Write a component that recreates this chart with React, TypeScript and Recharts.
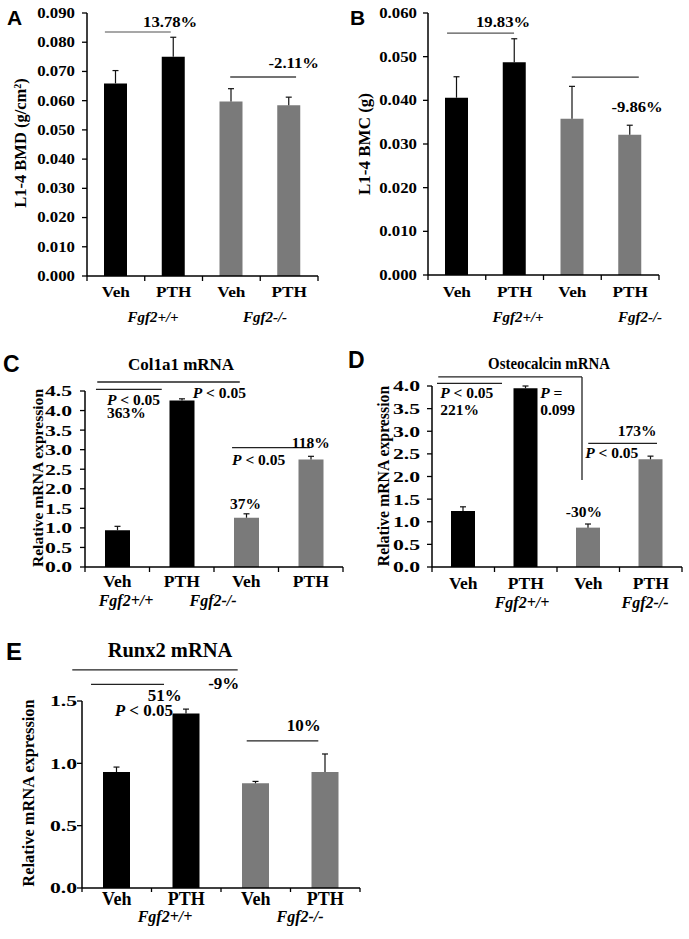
import React from 'react';
import { BarChart, Bar, XAxis, YAxis, Cell, ReferenceLine, ReferenceDot } from 'recharts';

const SERIF = "'Liberation Serif', 'Times New Roman', Times, serif";
const SANS = "'Liberation Sans', Arial, Helvetica, sans-serif";

// shared categories
const groups = ['Veh', 'PTH', 'Veh', 'PTH'];
const barColors = ['#000000', '#000000', '#7a7a7a', '#7a7a7a'];

// A - L1-4 BMD
const bmdValues = [0.0659, 0.075, 0.0597, 0.0584];
const bmdErrors = [0.0044, 0.0067, 0.0044, 0.0028];
const bmdTicks = [0, 0.01, 0.02, 0.03, 0.04, 0.05, 0.06, 0.07, 0.08, 0.09];
const bmdLines = [
  { x1: 0.31, x2: 1.45, y1: 0.0835, y2: 0.0835, color: '#8a8a8a' },
  { x1: 2.48, x2: 3.62, y1: 0.0681, y2: 0.0681, color: '#444' },
];
const bmdNotes = [
  { x: 1.44, y: 0.0869, text: '13.78%', anchor: 'middle' },
  { x: 3.58, y: 0.0729, text: '-2.11%', anchor: 'middle' },
];

// B - L1-4 BMC
const bmcValues = [0.0406, 0.0487, 0.0358, 0.0321];
const bmcErrors = [0.0048, 0.0054, 0.0074, 0.0022];
const bmcTicks = [0, 0.01, 0.02, 0.03, 0.04, 0.05, 0.06];
const bmcLines = [
  { x1: 0.33, x2: 1.49, y1: 0.0554, y2: 0.0554, color: '#555' },
  { x1: 2.49, x2: 3.65, y1: 0.0453, y2: 0.0453, color: '#333' },
];
const bmcNotes = [
  { x: 1.3, y: 0.0579, text: '19.83%', anchor: 'middle' },
  { x: 3.62, y: 0.0385, text: '-9.86%', anchor: 'middle' },
];

// C - Col1a1
const colValues = [0.94, 4.26, 1.26, 2.75];
const colErrors = [0.1, 0.04, 0.1, 0.08];
const colTicks = [0, 0.5, 1, 1.5, 2, 2.5, 3, 3.5, 4, 4.5];
const colLines = [
  { x1: 0.19, x2: 2.4, y1: 4.73, y2: 4.73, color: '#222' },
  { x1: 0.17, x2: 1.19, y1: 4.54, y2: 4.54, color: '#222' },
  { x1: 2.28, x2: 3.49, y1: 3.05, y2: 3.05, color: '#222' },
];
const colNotes = [
  { x: 0.34, y: 4.29, text: 'P < 0.05', anchor: 'start' },
  { x: 0.34, y: 3.96, text: '363%', anchor: 'start' },
  { x: 1.67, y: 4.45, text: 'P < 0.05', anchor: 'start' },
  { x: 3.5, y: 3.19, text: '118%', anchor: 'middle' },
  { x: 2.28, y: 2.75, text: 'P < 0.05', anchor: 'start' },
  { x: 2.49, y: 1.62, text: '37%', anchor: 'middle' },
];

// D - Osteocalcin
const ocnValues = [1.24, 3.95, 0.87, 2.38];
const ocnErrors = [0.09, 0.05, 0.08, 0.07];
const ocnTicks = [0, 0.5, 1, 1.5, 2, 2.5, 3, 3.5, 4];
const ocnLines = [
  { x1: 0.1, x2: 2.4, y1: 4.2, y2: 4.2, color: '#222' },
  { x1: 2.4, x2: 2.4, y1: 4.2, y2: 1.92, color: '#222' },
  { x1: 0.08, x2: 1.12, y1: 4.06, y2: 4.06, color: '#222' },
  { x1: 2.5, x2: 3.6, y1: 2.73, y2: 2.73, color: '#222' },
];
const ocnNotes = [
  { x: 0.13, y: 3.85, text: 'P < 0.05', anchor: 'start' },
  { x: 0.13, y: 3.49, text: '221%', anchor: 'start' },
  { x: 1.73, y: 3.85, text: 'P =', anchor: 'start' },
  { x: 1.73, y: 3.49, text: '0.099', anchor: 'start' },
  { x: 3.28, y: 3.01, text: '173%', anchor: 'middle' },
  { x: 2.45, y: 2.52, text: 'P < 0.05', anchor: 'start' },
  { x: 2.43, y: 1.22, text: '-30%', anchor: 'middle' },
];

// E - Runx2
const runxValues = [0.93, 1.4, 0.84, 0.93];
const runxErrors = [0.04, 0.035, 0.015, 0.145];
const runxTicks = [0, 0.5, 1, 1.5];
const runxLines = [
  { x1: -0.14, x2: 2.24, y1: 1.75, y2: 1.75, color: '#222' },
  { x1: 0.13, x2: 1.18, y1: 1.634, y2: 1.634, color: '#222' },
  { x1: 2.37, x2: 3.4, y1: 1.18, y2: 1.18, color: '#222' },
];
const runxNotes = [
  { x: 2.04, y: 1.646, text: '-9%', anchor: 'middle' },
  { x: 1.19, y: 1.55, text: '51%', anchor: 'middle' },
  { x: 0.47, y: 1.425, text: 'P < 0.05', anchor: 'start' },
  { x: 3.19, y: 1.305, text: '10%', anchor: 'middle' },
];

const WText = ({ x, y, size, sx = 1, anchor = 'middle', dy = '0.35em', rotate = 0, italic = false, family = SERIF, children }: any) => (
  <text
    transform={`translate(${x},${y}) rotate(${rotate}) scale(${sx},1)`}
    textAnchor={anchor}
    dy={dy}
    fontSize={size}
    fontFamily={family}
    fontWeight="bold"
    fontStyle={italic ? 'italic' : 'normal'}
    fill="#000"
  >
    {children}
  </text>
);

const rich = (t: string) =>
  t.startsWith('P ') ? (
    <>
      <tspan fontStyle="italic">P</tspan>
      {t.slice(1)}
    </>
  ) : (
    t
  );

const ErrShape = (p: any) => {
  const { x, y, width, height } = p;
  if (!height) return <g />;
  const cx = x + width / 2;
  return (
    <g>
      <line x1={cx} x2={cx} y1={y} y2={y + height} stroke="#111" strokeWidth={1.2} />
      <line x1={cx - 3} x2={cx + 3} y1={y} y2={y} stroke="#111" strokeWidth={1.2} />
    </g>
  );
};

const Panel = ({ box, margin, yWidth, values, errors, ticks, digits, lines, notes, st }: any) => {
  const data = groups.map((g, i) => ({ x: i + 0.5, name: g, value: values[i], err: errors[i] }));
  const top = ticks[ticks.length - 1];
  return (
    <div style={{ position: 'absolute', left: box.left, top: box.top }}>
      <BarChart width={box.width} height={box.height} data={data} margin={margin} style={{ overflow: 'visible' }}>
        <XAxis
          type="number"
          dataKey="x"
          domain={[0, 4]}
          allowDataOverflow
          ticks={[0, 1, 2, 3, 4]}
          interval={0}
          height={st.tickLen}
          tickSize={st.tickLen}
          tick={() => <g />}
          axisLine={{ stroke: '#000', strokeWidth: 1.5 }}
          tickLine={{ stroke: '#000', strokeWidth: 1.3 }}
        />
        <XAxis
          xAxisId="lab"
          type="number"
          dataKey="x"
          domain={[0, 4]}
          allowDataOverflow
          ticks={[0.5, 1.5, 2.5, 3.5]}
          interval={0}
          height={st.labH}
          axisLine={false}
          tickLine={false}
          tickSize={0}
          tickMargin={st.labMargin}
          tick={(p: any) => (
            <WText x={p.x} y={p.y} dy="0.71em" size={st.lab} sx={st.labSx}>
              {groups[Math.floor(p.payload.value)]}
            </WText>
          )}
        />
        <YAxis
          type="number"
          domain={[0, top]}
          ticks={ticks}
          interval={0}
          width={yWidth}
          tickSize={5}
          tickMargin={st.yMargin}
          axisLine={{ stroke: '#000', strokeWidth: 1.5 }}
          tickLine={{ stroke: '#000', strokeWidth: 1.3 }}
          tick={(p: any) => (
            <WText x={p.x} y={p.y} anchor="end" size={st.tick} sx={st.tickSx}>
              {Number(p.payload.value).toFixed(digits)}
            </WText>
          )}
        />
        <Bar dataKey="value" stackId="s" barSize={st.barW} isAnimationActive={false}>
          {data.map((d, i) => (
            <Cell key={i} fill={barColors[i]} />
          ))}
        </Bar>
        <Bar dataKey="err" stackId="s" barSize={st.barW} shape={ErrShape} isAnimationActive={false} />
        {lines.map((l: any, i: number) => (
          <ReferenceLine
            key={'l' + i}
            segment={[{ x: l.x1, y: l.y1 }, { x: l.x2, y: l.y2 }]}
            stroke={l.color}
            strokeWidth={1.3}
            ifOverflow="visible"
          />
        ))}
        {notes.map((n: any, i: number) => (
          <ReferenceDot
            key={'n' + i}
            x={n.x}
            y={n.y}
            r={0}
            ifOverflow="visible"
            shape={(p: any) => (
              <WText x={p.cx} y={p.cy} anchor={n.anchor} size={st.ann} sx={st.annSx}>
                {rich(n.text)}
              </WText>
            )}
          />
        ))}
      </BarChart>
    </div>
  );
};

const stAB = { tick: 14, tickSx: 1.2, lab: 15, labSx: 1.15, ann: 14.5, annSx: 1.15, tickLen: 5, labH: 19, yMargin: 7 };

export default function App() {
  return (
    <div style={{ position: 'absolute', left: 0, top: 0, width: 689, height: 939, background: '#fff', overflow: 'hidden' }}>
      <Panel
        box={{ left: 0, top: 0, width: 345, height: 300 }}
        margin={{ top: 13, right: 27, bottom: 0, left: 2 }}
        yWidth={85}
        values={bmdValues}
        errors={bmdErrors}
        ticks={bmdTicks}
        digits={3}
        lines={bmdLines}
        notes={bmdNotes}
        st={{ ...stAB, barW: 23, labMargin: 5 }}
      />
      <Panel
        box={{ left: 345, top: 0, width: 344, height: 300 }}
        margin={{ top: 13, right: 30, bottom: 1, left: 2 }}
        yWidth={81}
        values={bmcValues}
        errors={bmcErrors}
        ticks={bmcTicks}
        digits={3}
        lines={bmcLines}
        notes={bmcNotes}
        st={{ ...stAB, barW: 23, labMargin: 6, yMargin: 6 }}
      />
      <Panel
        box={{ left: 0, top: 330, width: 345, height: 270 }}
        margin={{ top: 61, right: 2, bottom: 7, left: 2 }}
        yWidth={83}
        values={colValues}
        errors={colErrors}
        ticks={colTicks}
        digits={1}
        lines={colLines}
        notes={colNotes}
        st={{ tick: 15.5, tickSx: 1.4, lab: 17.5, labSx: 1, ann: 15.5, annSx: 1, tickLen: 5, labH: 21, labMargin: 3, yMargin: 8, barW: 25 }}
      />
      <Panel
        box={{ left: 345, top: 330, width: 344, height: 270 }}
        margin={{ top: 56, right: 7, bottom: 7, left: 2 }}
        yWidth={85}
        values={ocnValues}
        errors={ocnErrors}
        ticks={ocnTicks}
        digits={1}
        lines={ocnLines}
        notes={ocnNotes}
        st={{ tick: 15.5, tickSx: 1.4, lab: 17.5, labSx: 1, ann: 15.5, annSx: 1, tickLen: 5, labH: 21, labMargin: 5, yMargin: 7, barW: 24 }}
      />
      <Panel
        box={{ left: 0, top: 630, width: 370, height: 280 }}
        margin={{ top: 71, right: 10, bottom: 2, left: 2 }}
        yWidth={80}
        values={runxValues}
        errors={runxErrors}
        ticks={runxTicks}
        digits={1}
        lines={runxLines}
        notes={runxNotes}
        st={{ tick: 15.5, tickSx: 1.4, lab: 18, labSx: 1, ann: 17, annSx: 1, tickLen: 4, labH: 16, labMargin: 0, yMargin: 0, barW: 27 }}
      />
      <svg width={689} height={939} style={{ position: 'absolute', left: 0, top: 0, pointerEvents: 'none' }}>
        <WText x={7} y={25} dy={0} anchor="start" size={21} family={SANS}>A</WText>
        <WText x={350} y={25} dy={0} anchor="start" size={21} family={SANS}>B</WText>
        <WText x={3} y={372} dy={0} anchor="start" size={23} family={SANS}>C</WText>
        <WText x={348} y={368} dy={0} anchor="start" size={23} family={SANS}>D</WText>
        <WText x={6} y={660} dy={0} anchor="start" size={24} family={SANS}>E</WText>

        <WText x={181} y={370} dy={0} size={17}>Col1a1 mRNA</WText>
        <WText x={549} y={369} dy={0} size={17.5} sx={0.85}>Osteocalcin mRNA</WText>
        <WText x={170} y={657} dy={0} size={20.5}>Runx2 mRNA</WText>

        <WText x={20} y={143} rotate={-90} size={16.5}>
          L1-4 BMD (g/cm<tspan baselineShift="super" fontSize={10}>2</tspan>)
        </WText>
        <WText x={364} y={144} rotate={-90} size={17}>L1-4 BMC (g)</WText>
        <WText x={38} y={478} rotate={-90} size={15.6}>Relative mRNA expression</WText>
        <WText x={383} y={476} rotate={-90} size={15.8}>Relative mRNA expression</WText>
        <WText x={28} y={793} rotate={-90} size={16.4}>Relative mRNA expression</WText>

        <WText x={153} y={322} dy={0} size={15} italic>Fgf2+/+</WText>
        <WText x={265} y={322} dy={0} size={15} italic>Fgf2-/-</WText>
        <WText x={518} y={322} dy={0} size={15} italic>Fgf2+/+</WText>
        <WText x={640} y={322} dy={0} size={15} italic>Fgf2-/-</WText>
        <WText x={126} y={606} dy={0} size={16} italic>Fgf2+/+</WText>
        <WText x={213} y={606} dy={0} size={16} italic>Fgf2-/-</WText>
        <WText x={522} y={608} dy={0} size={16} italic>Fgf2+/+</WText>
        <WText x={645} y={608} dy={0} size={16} italic>Fgf2-/-</WText>
        <WText x={165} y={922} dy={0} size={16} italic>Fgf2+/+</WText>
        <WText x={300} y={922} dy={0} size={16} italic>Fgf2-/-</WText>
      </svg>
    </div>
  );
}
